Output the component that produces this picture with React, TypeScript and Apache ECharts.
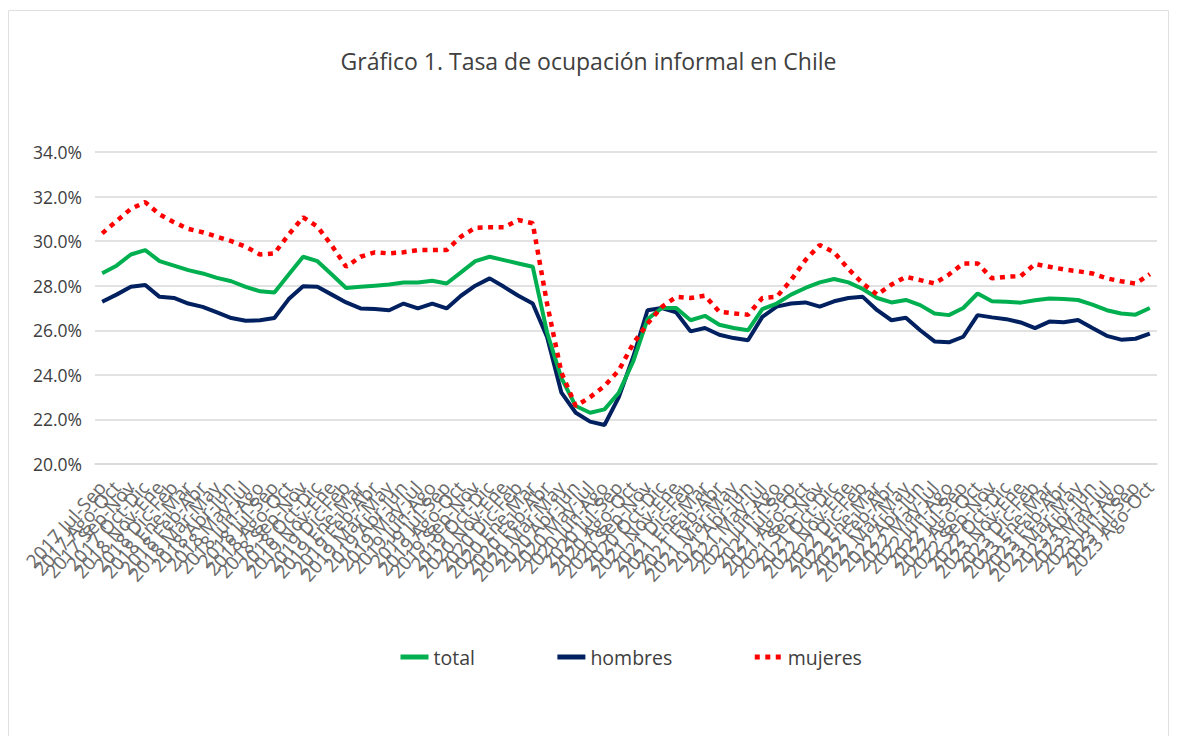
import React, { useEffect, useRef } from "react";
import * as echarts from "echarts";

const monthNames = ["Ene", "Feb", "Mar", "Abr", "May", "Jun", "Jul", "Ago", "Sep", "Oct", "Nov", "Dic"];
const startYear = 2017;
const startMonth = 6; // Jul (0-based)
const periodCount = 74;

// Rolling-quarter category labels, 2017 Jul-Sep ... 2023 Ago-Oct
const categories: string[] = [];
for (let k = 0; k < periodCount; k++) {
  const m0 = startMonth + k;
  const m2 = m0 + 2;
  const year = startYear + Math.floor(m2 / 12);
  categories.push(`${year} ${monthNames[m0 % 12]}-${monthNames[m2 % 12]}`);
}

const total = [
  28.56, 28.9, 29.4, 29.6, 29.1, 28.9, 28.7, 28.55, 28.35, 28.2,
  27.95, 27.75, 27.7, 28.5, 29.3, 29.1, 28.5, 27.9, 27.95, 28.0,
  28.05, 28.14, 28.14, 28.22, 28.1, 28.6, 29.1, 29.3, 29.15, 29.0,
  28.85, 25.9, 23.85, 22.6, 22.3, 22.45, 23.2, 24.6, 26.5, 27.0,
  27.0, 26.45, 26.65, 26.25, 26.1, 26.0, 26.95, 27.2, 27.6, 27.9,
  28.15, 28.3, 28.15, 27.85, 27.45, 27.25, 27.36, 27.13, 26.75, 26.68,
  27.0, 27.65, 27.3, 27.28, 27.24, 27.35, 27.43, 27.4, 27.36, 27.15,
  26.9, 26.75, 26.7, 27.0,
];

const hombres = [
  27.28, 27.6, 27.95, 28.03, 27.5, 27.45, 27.2, 27.05, 26.8, 26.55,
  26.43, 26.45, 26.55, 27.4, 27.98, 27.95, 27.6, 27.25, 26.98, 26.95,
  26.9, 27.2, 26.98, 27.2, 26.98, 27.55, 28.0, 28.33, 27.95, 27.55,
  27.2, 25.7, 23.2, 22.3, 21.9, 21.75, 23.0, 24.8, 26.9, 27.0,
  26.8, 25.95, 26.1, 25.8, 25.65, 25.55, 26.6, 27.06, 27.2, 27.25,
  27.06, 27.3, 27.45, 27.5, 26.9, 26.45, 26.56, 26.0, 25.5, 25.46,
  25.71, 26.68, 26.58, 26.5, 26.35, 26.1, 26.39, 26.36, 26.46, 26.1,
  25.75, 25.58, 25.62, 25.85,
];

const mujeres = [
  30.35, 30.9, 31.45, 31.75, 31.2, 30.85, 30.55, 30.4, 30.2, 30.0,
  29.75, 29.4, 29.45, 30.3, 31.07, 30.65, 29.8, 28.85, 29.3, 29.5,
  29.45, 29.5, 29.6, 29.6, 29.6, 30.2, 30.6, 30.62, 30.62, 30.95,
  30.8, 27.2, 24.1, 22.6, 23.0, 23.5, 24.2, 25.4, 26.3, 27.05,
  27.5, 27.45, 27.55, 26.83, 26.76, 26.7, 27.45, 27.5, 28.25, 29.15,
  29.83, 29.5, 28.75, 28.1, 27.6, 28.05, 28.4, 28.25, 28.1, 28.5,
  29.0, 29.0, 28.33, 28.4, 28.43, 28.97, 28.85, 28.73, 28.65, 28.55,
  28.33, 28.2, 28.1, 28.52,
];

const yTicks = { min: 20, max: 34, interval: 2 };
const FONT = "'Open Sans', 'Liberation Sans', sans-serif";

export default function App() {
  const ref = useRef<HTMLDivElement>(null);
  useEffect(() => {
    if (!ref.current) return;
    const chart = echarts.init(ref.current, undefined, { renderer: "svg" });
    chart.setOption({
      animation: false,
      backgroundColor: "#ffffff",
      textStyle: { fontFamily: FONT },
      title: {
        text: "Gráfico 1. Tasa de ocupación informal en Chile",
        left: "center",
        top: 44,
        textStyle: { fontFamily: FONT, fontSize: 23, fontWeight: "normal", color: "#404040" },
      },
      graphic: [
        {
          type: "rect",
          shape: { x: 8.5, y: 10.5, width: 1160, height: 740 },
          style: { fill: "none", stroke: "#e0e0e0", lineWidth: 1 },
          silent: true,
        },
      ],
      legend: {
        left: 393,
        top: 642,
        itemWidth: 28,
        itemHeight: 14,
        itemGap: 80,
        itemStyle: { opacity: 0 },
        lineStyle: { width: 5 },
        textStyle: { fontFamily: FONT, fontSize: 19.5, color: "#404040" },
        data: ["total", "hombres", "mujeres"],
      },
      grid: { left: 95, right: 20, top: 152, bottom: 272, containLabel: false },
      xAxis: {
        type: "category",
        data: categories,
        boundaryGap: true,
        axisLine: { show: true, lineStyle: { color: "#d9d9d9", width: 1.5 } },
        axisTick: { show: false },
        axisLabel: {
          interval: 0,
          rotate: 48,
          margin: 20,
          fontFamily: FONT,
          fontSize: 19,
          color: "#6a6a6a",
        },
      },
      yAxis: {
        type: "value",
        min: yTicks.min,
        max: yTicks.max,
        interval: yTicks.interval,
        axisLine: { show: false },
        axisTick: { show: false },
        splitLine: { lineStyle: { color: "#d9d9d9", width: 1.5 } },
        axisLabel: {
          formatter: (v: number) => `${v.toFixed(1)}%`,
          fontFamily: FONT,
          fontSize: 17.5,
          color: "#404040",
          margin: 13,
        },
      },
      series: [
        {
          name: "total",
          type: "line",
          data: total,
          symbol: "none",
          lineStyle: { color: "#00B050", width: 4 },
          itemStyle: { color: "#00B050" },
          z: 3,
        },
        {
          name: "hombres",
          type: "line",
          data: hombres,
          symbol: "none",
          lineStyle: { color: "#002060", width: 4 },
          itemStyle: { color: "#002060" },
          z: 2,
        },
        {
          name: "mujeres",
          type: "line",
          data: mujeres,
          symbol: "none",
          lineStyle: { color: "#FF0000", width: 4.5, type: [5, 5.5], cap: "butt" },
          itemStyle: { color: "#FF0000" },
          z: 4,
        },
      ],
    });
    return () => chart.dispose();
  }, []);
  return (
    <div
      ref={ref}
      style={{ position: "absolute", left: 0, top: 0, width: 1177, height: 736 }}
    />
  );
}
